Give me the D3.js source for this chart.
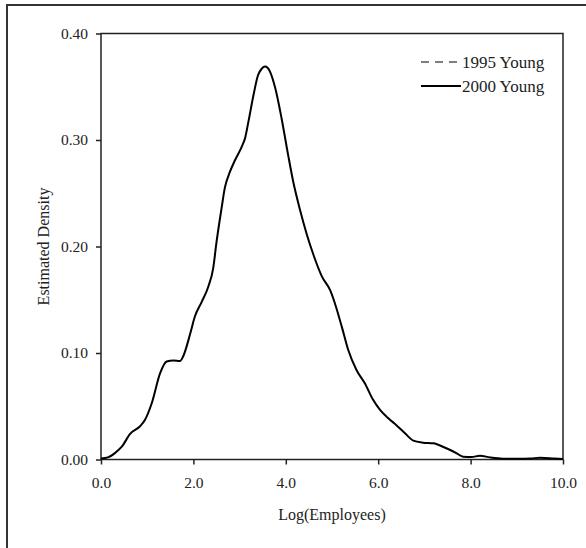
<!doctype html>
<meta charset="utf-8">
<title>Estimated density, young firms</title>
<script src="https://cdn.jsdelivr.net/npm/d3@7/dist/d3.min.js"></script>
<style>
  body { margin: 0; background: #fff; }
  text { font-family: "Liberation Serif", "Times New Roman", serif; fill: #222; }
  .axis text { font-size: 15.5px; }
  .axis path, .axis line { stroke: #222; stroke-width: 1.5px; }
</style>
<svg id="chart" width="586" height="548"></svg>
<script>
  // log(employees) grid and density
  var logEmp = [0.00, 0.15, 0.30, 0.45, 0.63, 0.84, 0.95, 1.10, 1.28, 1.42, 1.57, 1.71, 1.78,
    1.93, 2.03, 2.18, 2.32, 2.43, 2.50, 2.61, 2.68, 2.79, 2.90, 3.05, 3.12, 3.19, 3.30,
    3.40, 3.48, 3.55, 3.60, 3.66, 3.77, 3.91, 4.05, 4.16, 4.31, 4.45, 4.60, 4.78, 4.96,
    5.06, 5.21, 5.35, 5.53, 5.71, 5.89, 6.04, 6.22, 6.40, 6.58, 6.76, 6.97, 7.19, 7.45,
    7.70, 7.84, 8.02, 8.20, 8.42, 8.70, 9.03, 9.30, 9.50, 9.80, 10.00];
  var young2000 = [0.001, 0.002, 0.006, 0.012, 0.024, 0.031, 0.037, 0.053, 0.081, 0.092, 0.093, 0.0925, 0.097,
    0.118, 0.134, 0.148, 0.162, 0.180, 0.204, 0.236, 0.255, 0.270, 0.281, 0.294, 0.302, 0.317, 0.342,
    0.361, 0.367, 0.369, 0.368, 0.364, 0.349, 0.320, 0.286, 0.261, 0.234, 0.212, 0.192, 0.172, 0.159,
    0.147, 0.125, 0.103, 0.084, 0.0715, 0.056, 0.0465, 0.0387, 0.032, 0.0246, 0.0177, 0.0158, 0.0152, 0.011,
    0.0058, 0.0026, 0.0023, 0.0036, 0.002, 0.0008, 0.0007, 0.0009, 0.0017, 0.001, 0.0005];

  var xTicks = [0, 2, 4, 6, 8, 10];
  var yTicks = [0, 0.1, 0.2, 0.3, 0.4];
  var seriesNames = ["1995 Young", "2000 Young"];
  var seriesDash = ["8,6", null];

  var svg = d3.select("#chart");

  // outer frame (only top and left edges show in the window)
  svg.append("rect")
    .attr("x", 7).attr("y", 5)
    .attr("width", 700).attr("height", 700)
    .attr("fill", "none").attr("stroke", "#333").attr("stroke-width", 2);

  var plotL = 101, plotR = 563, plotT = 33.5, plotB = 459.5;

  var x = d3.scaleLinear().domain([0, 10]).range([plotL, plotR]);
  var y = d3.scaleLinear().domain([0, 0.4]).range([plotB, plotT]);

  // plot box
  svg.append("rect")
    .attr("x", plotL).attr("y", plotT)
    .attr("width", plotR - plotL).attr("height", plotB - plotT)
    .attr("fill", "none").attr("stroke", "#222").attr("stroke-width", 1.5);

  svg.append("g")
    .attr("class", "axis")
    .attr("transform", "translate(0," + plotB + ")")
    .call(d3.axisBottom(x).tickValues(xTicks).tickFormat(d3.format(".1f")).tickSize(5).tickPadding(12))
    .call(g => g.select(".domain").remove());

  svg.append("g")
    .attr("class", "axis")
    .attr("transform", "translate(" + plotL + ",0)")
    .call(d3.axisLeft(y).tickValues(yTicks).tickFormat(d3.format(".2f")).tickSize(5).tickPadding(8))
    .call(g => g.select(".domain").remove());

  svg.selectAll(".axis").attr("font-family", null).attr("font-size", null);

  // curve
  var line = d3.line()
    .x((d, i) => x(logEmp[i]))
    .y(d => y(d))
    .curve(d3.curveMonotoneX);

  svg.append("path")
    .datum(young2000)
    .attr("d", line)
    .attr("fill", "none")
    .attr("stroke", "#000")
    .attr("stroke-width", 2);

  // axis titles
  svg.append("text")
    .attr("x", 332).attr("y", 520)
    .attr("text-anchor", "middle")
    .attr("font-size", 16)
    .text("Log(Employees)");

  svg.append("text")
    .attr("transform", "translate(49," + (plotT + plotB) / 2 + ") rotate(-90)")
    .attr("text-anchor", "middle")
    .attr("font-size", 16)
    .text("Estimated Density");

  // legend
  var legend = svg.append("g").attr("transform", "translate(421,62)");
  seriesNames.forEach(function (name, i) {
    var row = legend.append("g").attr("transform", "translate(0," + i * 24 + ")");
    row.append("line")
      .attr("x1", 0).attr("x2", 40)
      .attr("stroke", "#000").attr("stroke-width", i == 1 ? 2 : 1.2)
      .attr("stroke-dasharray", seriesDash[i]);
    row.append("text")
      .attr("x", 41).attr("y", 5.5)
      .attr("font-size", 17)
      .text(name);
  });
</script>
